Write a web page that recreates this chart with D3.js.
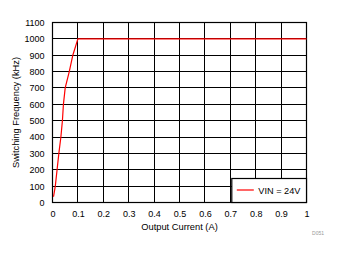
<!DOCTYPE html>
<html>
<head>
<meta charset="utf-8">
<script src="https://cdn.jsdelivr.net/npm/d3@7"></script>
<style>
  body { margin: 0; background: #fff; }
  text { font-family: "Liberation Sans", Arial, sans-serif; fill: #000; }
</style>
</head>
<body>
<div class="chart"></div>
<script>
// Chart data
var currentA = [0.004, 0.011, 0.018, 0.025, 0.033, 0.039, 0.043, 0.05, 0.066, 0.08, 0.1, 1];
var freqKHz = [35, 100, 200, 300, 400, 500, 600, 700, 800, 900, 1000, 1000];
var xTicks = [0, 0.1, 0.2, 0.3, 0.4, 0.5, 0.6, 0.7, 0.8, 0.9, 1];
var yTicks = [0, 100, 200, 300, 400, 500, 600, 700, 800, 900, 1000, 1100];
var seriesName = "VIN = 24V";

var svgWidth = 339;
var svgHeight = 254;

var margin = { top: 22.5, right: 32.5, bottom: 51.5, left: 52.5 };
var width = svgWidth - margin.left - margin.right;
var height = svgHeight - margin.top - margin.bottom;

var svg = d3.select(".chart")
  .append("svg")
  .attr("width", svgWidth)
  .attr("height", svgHeight);

var chartGroup = svg.append("g")
  .attr("transform", `translate(${margin.left}, ${margin.top})`);

var data = currentA.map((c, i) => ({ x: c, y: freqKHz[i] }));

// Scales
var xScale = d3.scaleLinear().domain([0, 1]).range([0, width]);
var yScale = d3.scaleLinear().domain([0, 1100]).range([height, 0]);

// Round grid positions to pixel centres so lines stay crisp
var px = v => Math.round(v - 0.5) + 0.5 - 0;

// Gridlines
chartGroup.append("g")
  .selectAll("line")
  .data(xTicks)
  .enter()
  .append("line")
  .attr("x1", d => Math.round(xScale(d)))
  .attr("x2", d => Math.round(xScale(d)))
  .attr("y1", 0)
  .attr("y2", height)
  .attr("stroke", "#000")
  .attr("stroke-width", 1);

chartGroup.append("g")
  .selectAll("line")
  .data(yTicks)
  .enter()
  .append("line")
  .attr("x1", 0)
  .attr("x2", width)
  .attr("y1", d => Math.round(yScale(d)))
  .attr("y2", d => Math.round(yScale(d)))
  .attr("stroke", "#000")
  .attr("stroke-width", 1);

// Axes (labels only, gridlines drawn above)
var bottomAxis = d3.axisBottom(xScale)
  .tickValues(xTicks)
  .tickSize(0)
  .tickPadding(8)
  .tickFormat(d => d === 0 ? "0" : d === 1 ? "1" : d3.format(".1f")(d));

var leftAxis = d3.axisLeft(yScale)
  .tickValues(yTicks)
  .tickSize(0)
  .tickPadding(8)
  .tickFormat(d3.format("d"));

var xAxisG = chartGroup.append("g")
  .attr("transform", `translate(0, ${height})`)
  .call(bottomAxis);

var yAxisG = chartGroup.append("g")
  .call(leftAxis);

[xAxisG, yAxisG].forEach(g => {
  g.select(".domain").remove();
  g.selectAll("text")
    .attr("font-family", "Liberation Sans, Arial, sans-serif")
    .attr("font-size", "9px")
    .attr("fill", "#000");
});

// Plot border
chartGroup.append("rect")
  .attr("x", 0)
  .attr("y", 0)
  .attr("width", width)
  .attr("height", height)
  .attr("fill", "none")
  .attr("stroke", "#000")
  .attr("stroke-width", 1.2);

// Series line
var line = d3.line()
  .x(d => xScale(d.x))
  .y(d => yScale(d.y));

chartGroup.append("path")
  .datum(data)
  .attr("d", line)
  .attr("fill", "none")
  .attr("stroke", "#ff0000")
  .attr("stroke-width", 1.2);

// Legend
var legend = chartGroup.append("g")
  .attr("transform", `translate(${xScale(0.7) + 1.5}, ${height - 24})`);

legend.append("rect")
  .attr("x", 0)
  .attr("y", 0)
  .attr("width", width - xScale(0.7) - 1.5)
  .attr("height", 24)
  .attr("fill", "#fff")
  .attr("stroke", "#000")
  .attr("stroke-width", 1.2);

legend.append("line")
  .attr("x1", 5)
  .attr("x2", 22)
  .attr("y1", 11.5)
  .attr("y2", 11.5)
  .attr("stroke", "#ff0000")
  .attr("stroke-width", 1.2);

legend.append("text")
  .attr("x", 26.5)
  .attr("y", 15)
  .attr("font-size", "9.2px")
  .text(seriesName);

// Axis titles
chartGroup.append("text")
  .attr("x", width / 2)
  .attr("y", height + 27)
  .attr("text-anchor", "middle")
  .attr("font-size", "9.3px")
  .text("Output Current (A)");

chartGroup.append("text")
  .attr("transform", "rotate(-90)")
  .attr("x", -height / 2)
  .attr("y", -34)
  .attr("text-anchor", "middle")
  .attr("font-size", "9.3px")
  .text("Switching Frequency (kHz)");

// Figure id
svg.append("text")
  .attr("x", 324)
  .attr("y", 235)
  .attr("text-anchor", "end")
  .attr("font-size", "5px")
  .style("fill", "#999")
  .text("D051");
</script>
</body>
</html>
